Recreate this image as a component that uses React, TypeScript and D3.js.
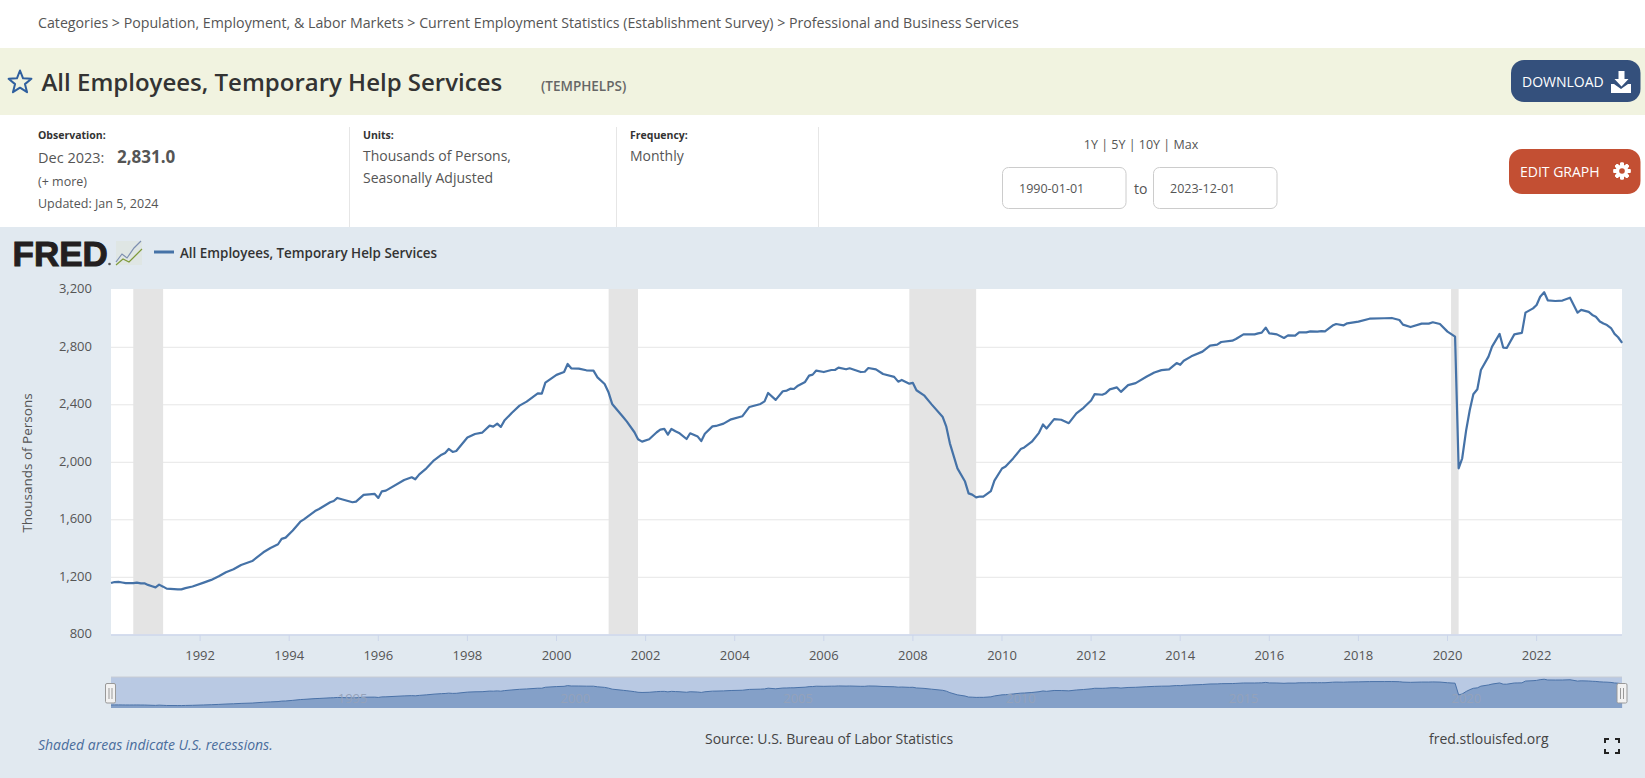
import React from "react";
import * as d3 from "d3";

const years1990s = [1990.0,1990.08,1990.17,1990.25,1990.33,1990.42,1990.5,1990.58,1990.67,1990.75,1990.83,1990.92,1991.0,1991.08,1991.17,1991.25,1991.5,1991.58,1991.67,1991.83,1992.08,1992.25,1992.42,1992.58,1992.75,1992.92,1993.17,1993.42,1993.58,1993.75,1993.83,1993.92,1994.08,1994.25,1994.33,1994.58,1994.67,1994.92,1995.0,1995.08,1995.42,1995.5,1995.67,1995.92,1996.0,1996.08,1996.17,1996.58,1996.75,1996.83,1996.92,1997.08,1997.25,1997.42,1997.5,1997.58,1997.67,1997.75,1998.0,1998.17,1998.33,1998.5,1998.58,1998.67,1998.75,1998.83,1999.0,1999.17,1999.33,1999.58,1999.67,1999.75];
const values1990s = [1160,1167,1168,1164,1160,1159,1160,1163,1158,1158,1147,1138,1130,1149,1135,1121,1116,1116,1125,1136,1163,1182,1207,1235,1256,1286,1313,1374,1404,1430,1467,1476,1525,1587,1603,1661,1675,1722,1731,1752,1722,1726,1773,1780,1752,1798,1803,1877,1896,1882,1916,1958,2014,2053,2065,2093,2072,2079,2172,2197,2206,2255,2248,2269,2246,2290,2345,2394,2422,2480,2478,2554];

const years2000s = [2000.0,2000.17,2000.25,2000.33,2000.5,2000.67,2000.83,2000.92,2001.08,2001.17,2001.25,2001.5,2001.58,2001.75,2001.83,2001.92,2002.08,2002.25,2002.33,2002.42,2002.5,2002.58,2002.67,2002.75,2002.92,2003.0,2003.17,2003.25,2003.33,2003.5,2003.58,2003.75,2003.92,2004.17,2004.33,2004.58,2004.67,2004.75,2004.92,2005.08,2005.17,2005.25,2005.33,2005.42,2005.58,2005.67,2005.75,2005.83,2006.0,2006.17,2006.25,2006.33,2006.5,2006.58,2006.83,2006.92,2007.0,2007.17,2007.33,2007.58,2007.67,2007.75,2007.92,2008.0,2008.08,2008.25,2008.42,2008.67,2008.75,2008.83,2009.0,2009.17,2009.25,2009.33,2009.42,2009.5,2009.58,2009.75,2009.83];
const values2000s = [2608,2628,2684,2654,2652,2640,2638,2591,2545,2485,2406,2313,2283,2209,2160,2144,2160,2209,2227,2232,2192,2232,2216,2204,2162,2202,2179,2148,2199,2250,2253,2269,2299,2320,2385,2406,2424,2482,2434,2494,2499,2512,2510,2533,2559,2603,2610,2638,2628,2642,2642,2659,2647,2654,2628,2630,2656,2647,2614,2594,2561,2573,2547,2552,2501,2466,2403,2315,2248,2132,1958,1866,1784,1775,1756,1762,1761,1800,1872];

const years2010s = [2010.0,2010.08,2010.25,2010.42,2010.5,2010.67,2010.83,2010.92,2011.0,2011.17,2011.33,2011.5,2011.67,2011.83,2012.0,2012.08,2012.25,2012.33,2012.42,2012.58,2012.67,2012.83,2013.0,2013.25,2013.42,2013.58,2013.75,2013.92,2014.0,2014.08,2014.25,2014.5,2014.67,2014.83,2014.92,2015.17,2015.25,2015.42,2015.67,2015.75,2015.83,2015.92,2016.0,2016.17,2016.33,2016.42,2016.58,2016.67,2016.83,2016.92,2017.08,2017.17,2017.25,2017.42,2017.5,2017.67,2017.75,2018.0,2018.25,2018.58,2018.75,2018.92,2019.0,2019.17,2019.42,2019.58,2019.67,2019.83];
const values2010s = [1957,1971,2027,2092,2103,2143,2205,2263,2235,2300,2296,2272,2340,2379,2430,2474,2470,2481,2507,2521,2490,2537,2551,2597,2625,2641,2646,2690,2678,2706,2737,2770,2812,2819,2837,2846,2858,2890,2890,2897,2902,2937,2897,2890,2865,2883,2881,2904,2904,2911,2909,2913,2911,2951,2962,2953,2967,2979,2999,3002,3004,2990,2958,2941,2965,2965,2974,2962];

const years2020s = [2020.0,2020.17,2020.25,2020.33,2020.42,2020.5,2020.58,2020.67,2020.75,2020.92,2021.0,2021.17,2021.25,2021.33,2021.5,2021.58,2021.67,2021.75,2021.92,2022.0,2022.08,2022.17,2022.25,2022.42,2022.58,2022.75,2022.92,2023.0,2023.17,2023.25,2023.33,2023.42,2023.5,2023.58,2023.67,2023.75,2023.83,2023.92];
const values2020s = [2909,2874,1958,2028,2225,2364,2473,2508,2642,2735,2805,2893,2798,2795,2890,2895,2900,3041,3071,3094,3152,3183,3127,3122,3125,3145,3041,3060,3046,3025,3013,2979,2965,2955,2934,2893,2870,2831];

const recessionStarts = [1990.5, 2001.17, 2007.92, 2020.08];
const recessionEnds = [1991.17, 2001.83, 2009.42, 2020.25];
const yTicks = [800, 1200, 1600, 2000, 2400, 2800, 3200];
const xTicks = [1992,1994,1996,1998,2000,2002,2004,2006,2008,2010,2012,2014,2016,2018,2020,2022];
const navTicks = [1995, 2000, 2005, 2010, 2015, 2020];

const obsYears = [...years1990s, ...years2000s, ...years2010s, ...years2020s];
const obsValues = [...values1990s, ...values2000s, ...values2010s, ...values2020s];
const rows = obsYears.map((y, i) => ({ y, v: obsValues[i] }));

const FONT = "'Open Sans', sans-serif";
const x = d3.scaleLinear().domain([1990, 2023.917]).range([111, 1622]);
const y = d3.scaleLinear().domain([800, 3200]).range([634.8, 289.8]);
const navY = d3.scaleLinear().domain([924, 3180]).range([708, 679.3]);
const linePath = d3.line<{ y: number; v: number }>().x(d => x(d.y)).y(d => y(d.v)).curve(d3.curveLinear)(rows) || "";
const navArea = d3.area<{ y: number; v: number }>().x(d => x(d.y)).y0(708).y1(d => navY(d.v))(rows) || "";
const navLine = d3.line<{ y: number; v: number }>().x(d => x(d.y)).y(d => navY(d.v))(rows) || "";

const fmt = d3.format(",");

function T(p: any) {
  const { children, size = 14, fill = "#555", weight = 400, ...rest } = p;
  return <text fontFamily={FONT} fontSize={size} fill={fill} fontWeight={weight} {...rest}>{children}</text>;
}

function Star() {
  const pts = d3.range(10).map(i => {
    const r = i % 2 ? 5.2 : 12;
    const a = -Math.PI / 2 + (i * Math.PI) / 5;
    return `${20 + r * Math.cos(a)},${82.5 + r * Math.sin(a)}`;
  }).join(" ");
  return <polygon points={pts} fill="none" stroke="#2f5f9e" strokeWidth={2} strokeLinejoin="round" />;
}

function Gear({ cx, cy }: { cx: number; cy: number }) {
  const teeth = d3.range(8).map(i => (i * 360) / 8);
  return (
    <g>
      {teeth.map(a => (
        <rect key={a} x={cx - 1.9} y={cy - 8.6} width={3.8} height={17.2} rx={1} fill="#fff" transform={`rotate(${a} ${cx} ${cy})`} />
      ))}
      <circle cx={cx} cy={cy} r={6.2} fill="#fff" />
      <circle cx={cx} cy={cy} r={2.8} fill="#c34f33" />
    </g>
  );
}

function Handle({ cx }: { cx: number }) {
  return (
    <g>
      <rect x={cx - 5} y={683.5} width={10} height={19.5} rx={1.5} fill="#f2f2f2" stroke="#999" />
      <line x1={cx - 1.5} x2={cx - 1.5} y1={688} y2={699} stroke="#999" />
      <line x1={cx + 1.5} x2={cx + 1.5} y1={688} y2={699} stroke="#999" />
    </g>
  );
}

export default function App() {
  return (
    <svg width={1645} height={778} viewBox="0 0 1645 778" style={{ position: "absolute", left: 0, top: 0, display: "block" }}>
      <rect width={1645} height={778} fill="#fff" />
      <rect y={48} width={1645} height={67} fill="#f1f3e0" />
      <rect y={227} width={1645} height={551} fill="#e1e9f0" />

      <T x={38} y={28} size={14.2} fill="#555">Categories &gt; Population, Employment, &amp; Labor Markets &gt; Current Employment Statistics (Establishment Survey) &gt; Professional and Business Services</T>

      <Star />
      <T x={41.5} y={91} size={24} weight={600} fill="#333">All Employees, Temporary Help Services</T>
      <T x={541} y={91} size={13.5} weight={600} fill="#666">(TEMPHELPS)</T>

      <rect x={1511} y={60} width={129.5} height={42} rx={13} fill="#34507c" />
      <T x={1522} y={87} size={14} fill="#fff">DOWNLOAD</T>
      <path d="M1618.5 71h6v8h4l-7 7.5-7-7.5h4z M1614 84l7 5 7-5h3v9h-20v-9z" fill="#fff" />

      <rect x={1509} y={149} width={131.5} height={45} rx={13} fill="#c34f33" />
      <T x={1520} y={177} size={14} fill="#fff">EDIT GRAPH</T>
      <Gear cx={1622} cy={171} />

      {[349.5, 616.5, 818.5].map(v => <line key={v} x1={v} x2={v} y1={127} y2={227} stroke="#e6e6e6" />)}

      <T x={38} y={139} size={10.5} weight={700} fill="#333">Observation:</T>
      <T x={38} y={163} size={14.5}>Dec 2023:</T>
      <T x={117} y={163} size={17} weight={700} fill="#555">2,831.0</T>
      <T x={38} y={186} size={12.5}>(+ more)</T>
      <T x={38} y={208} size={12.5}>Updated: Jan 5, 2024</T>

      <T x={363} y={139} size={10.5} weight={700} fill="#333">Units:</T>
      <T x={363} y={161} size={14}>Thousands of Persons,</T>
      <T x={363} y={183} size={14}>Seasonally Adjusted</T>

      <T x={630} y={139} size={10.5} weight={700} fill="#333">Frequency:</T>
      <T x={630} y={161} size={14}>Monthly</T>

      <T x={1141} y={149} size={12.5} textAnchor="middle">1Y | 5Y | 10Y | Max</T>
      <rect x={1002.5} y={167.5} width={123.5} height={41} rx={6} fill="#fff" stroke="#ccc" />
      <rect x={1153.5} y={167.5} width={123.5} height={41} rx={6} fill="#fff" stroke="#ccc" />
      <T x={1019} y={193} size={12.5}>1990-01-01</T>
      <T x={1170} y={193} size={12.5}>2023-12-01</T>
      <T x={1134} y={194} size={14}>to</T>

      {/* FRED logo */}
      <text x={12.5} y={265.5} fontFamily="'Liberation Sans', sans-serif" fontWeight={700} fontSize={35} fill="#231f20" stroke="#231f20" strokeWidth={1}>FRED</text>
      <circle cx={109.5} cy={264} r={1.3} fill="#555" />
      <rect x={116} y={241} width={26} height={24} fill="#dfe6e4" />
      <polyline points="116,262 122,254 127,258 134,248 141,241" fill="none" stroke="#7d8fb0" strokeWidth={1.2} />
      <polyline points="116,265 123,259 129,262 136,255 142,249" fill="none" stroke="#7f9a3a" strokeWidth={1.2} />

      <line x1={154} x2={174} y1={252} y2={252} stroke="#4572a7" strokeWidth={3} />
      <T x={180} y={257.5} size={13.4} weight={600} fill="#333">All Employees, Temporary Help Services</T>

      {/* plot */}
      <rect x={111} y={289} width={1511} height={345.5} fill="#fff" />
      {yTicks.slice(1, -1).map(t => (
        <line key={t} x1={111} x2={1622} y1={y(t)} y2={y(t)} stroke="#e6e6e6" />
      ))}
      {recessionStarts.map((s, i) => (
        <rect key={s} x={x(s)} y={289} width={x(recessionEnds[i]) - x(s)} height={345.5} fill="#e4e4e4" />
      ))}
      <path d={linePath} fill="none" stroke="#4572a7" strokeWidth={2.2} strokeLinejoin="round" />

      <line x1={111} x2={1622} y1={635} y2={635} stroke="#ccd6eb" strokeWidth={1.5} />
      {xTicks.map(t => (
        <g key={t}>
          <line x1={x(t)} x2={x(t)} y1={635} y2={641} stroke="#ccd6eb" />
          <T x={x(t)} y={660} size={13} fill="#555" textAnchor="middle">{t}</T>
        </g>
      ))}
      {yTicks.map(t => (
        <T key={t} x={92} y={y(t) + 3.5} size={13} fill="#555" textAnchor="end">{fmt(t)}</T>
      ))}
      <T transform="translate(32,463) rotate(-90)" size={13.5} fill="#555" textAnchor="middle">Thousands of Persons</T>

      {/* navigator */}
      <rect x={111} y={677} width={1511} height={31} fill="#b9c9e3" />
      <line x1={111} x2={1622} y1={677} y2={677} stroke="#c8ccd4" />
      <path d={navArea} fill="#84a0c8" />
      <path d={navLine} fill="none" stroke="#4a72a8" strokeWidth={1} />
      {navTicks.map(t => (
        <T key={t} x={x(t) + 4} y={703} size={13} fill="#94a2ba">{t}</T>
      ))}
      <Handle cx={110.5} />
      <Handle cx={1622} />

      <T x={38} y={750} size={14} fill="#4a6d9c" fontStyle="italic">Shaded areas indicate U.S. recessions.</T>
      <T x={705} y={744} size={14} fill="#444">Source: U.S. Bureau of Labor Statistics</T>
      <T x={1429} y={744} size={14} fill="#444">fred.stlouisfed.org</T>
      <path d="M1605 743v-4h4M1615 739h4v4M1619 749v4h-4M1609 753h-4v-4" fill="none" stroke="#222" strokeWidth={2} />
    </svg>
  );
}
